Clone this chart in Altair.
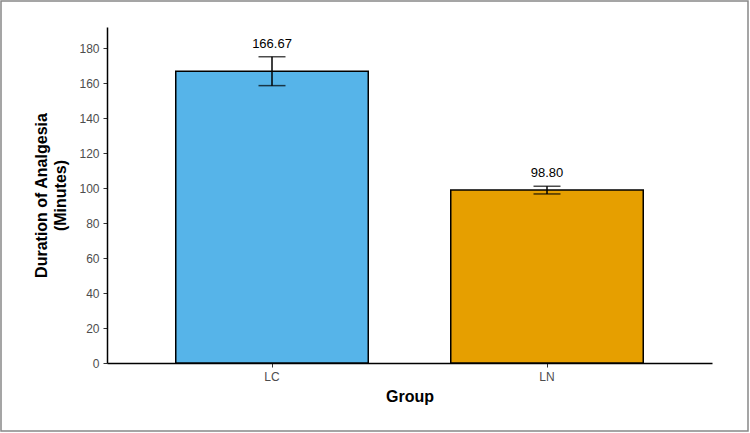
import altair as alt
import pandas as pd

groups = ["LC", "LN"]
means = [166.67, 98.80]
lowers = [158.5, 96.6]
uppers = [175.0, 101.0]
labels = ["166.67", "98.80"]
colors = ["#56B4E9", "#E69F00"]
y_ticks = [0, 20, 40, 60, 80, 100, 120, 140, 160, 180]

df = pd.DataFrame({"Group": groups, "mean": means, "lower": lowers,
                   "upper": uppers, "label": labels})

W, H = 605, 336
PL, PT = 107, 27
PR = 750 - PL - W
PB = 433 - PT - H

xenc = alt.X("Group:N", scale=alt.Scale(paddingInner=0.3, paddingOuter=0.25),
             axis=alt.Axis(title="Group", labelAngle=0, labelColor="#4d4d4d",
                           labelFontSize=12, labelPadding=4, tickColor="#333333",
                           tickSize=4, domainColor="#000000", domainWidth=1.5,
                           titleFontSize=16, titleFontWeight="bold",
                           titleColor="#000000", titlePadding=6, labelFont="Liberation Sans",
                           titleFont="Liberation Sans"))
yscale = alt.Scale(domain=[0, 192], nice=False, zero=True)
yaxis = alt.Axis(title=["Duration of Analgesia", "(Minutes)"],
                 values=y_ticks, tickCount=10, grid=False, labelOverlap=False,
                 labelColor="#4d4d4d", labelFontSize=12, labelPadding=4,
                 tickColor="#333333", tickSize=4, domainColor="#000000",
                 domainWidth=1.5, titleFontSize=16, titleFontWeight="bold",
                 titleColor="#000000", titlePadding=10, titleLineHeight=19,
                 labelFont="Liberation Sans", titleFont="Liberation Sans")

base = alt.Chart(df)

bars = base.mark_bar(stroke="#000000", strokeWidth=1.5).encode(
    x=xenc,
    y=alt.Y("mean:Q", scale=yscale, axis=yaxis),
    color=alt.Color("Group:N", scale=alt.Scale(domain=groups, range=colors), legend=None),
)

err = base.mark_rule(color="#000000", strokeWidth=1.5).encode(
    x=xenc, y=alt.Y("lower:Q", scale=yscale, axis=yaxis), y2="upper:Q")
caps_hi = base.mark_tick(color="#000000", thickness=1.5, size=27).encode(
    x=xenc, y=alt.Y("upper:Q", scale=yscale, axis=yaxis))
caps_lo = base.mark_tick(color="#000000", thickness=1.5, size=27).encode(
    x=xenc, y=alt.Y("lower:Q", scale=yscale, axis=yaxis))
text = base.mark_text(baseline="bottom", dy=-6, fontSize=13, color="#000000",
                      font="Liberation Sans").encode(
    x=xenc, y=alt.Y("upper:Q", scale=yscale, axis=yaxis), text="label:N")

border = alt.Chart(pd.DataFrame({"a": [0]})).mark_rect(
    fill=None, stroke="#888888", strokeWidth=1.5, clip=False).encode(
    x=alt.value(-PL + 1), x2=alt.value(W + PR - 2),
    y=alt.value(-PT + 1), y2=alt.value(H + PB - 2))

chart = alt.layer(bars, err, caps_hi, caps_lo, text, border).properties(
    width=W, height=H,
    background="white",
    autosize=alt.AutoSizeParams(type="none"),
    padding={"left": PL, "top": PT, "right": PR, "bottom": PB},
).configure_view(strokeWidth=0, stroke=None)

chart.save("out.html", embed_options={"renderer": "svg", "actions": False})
